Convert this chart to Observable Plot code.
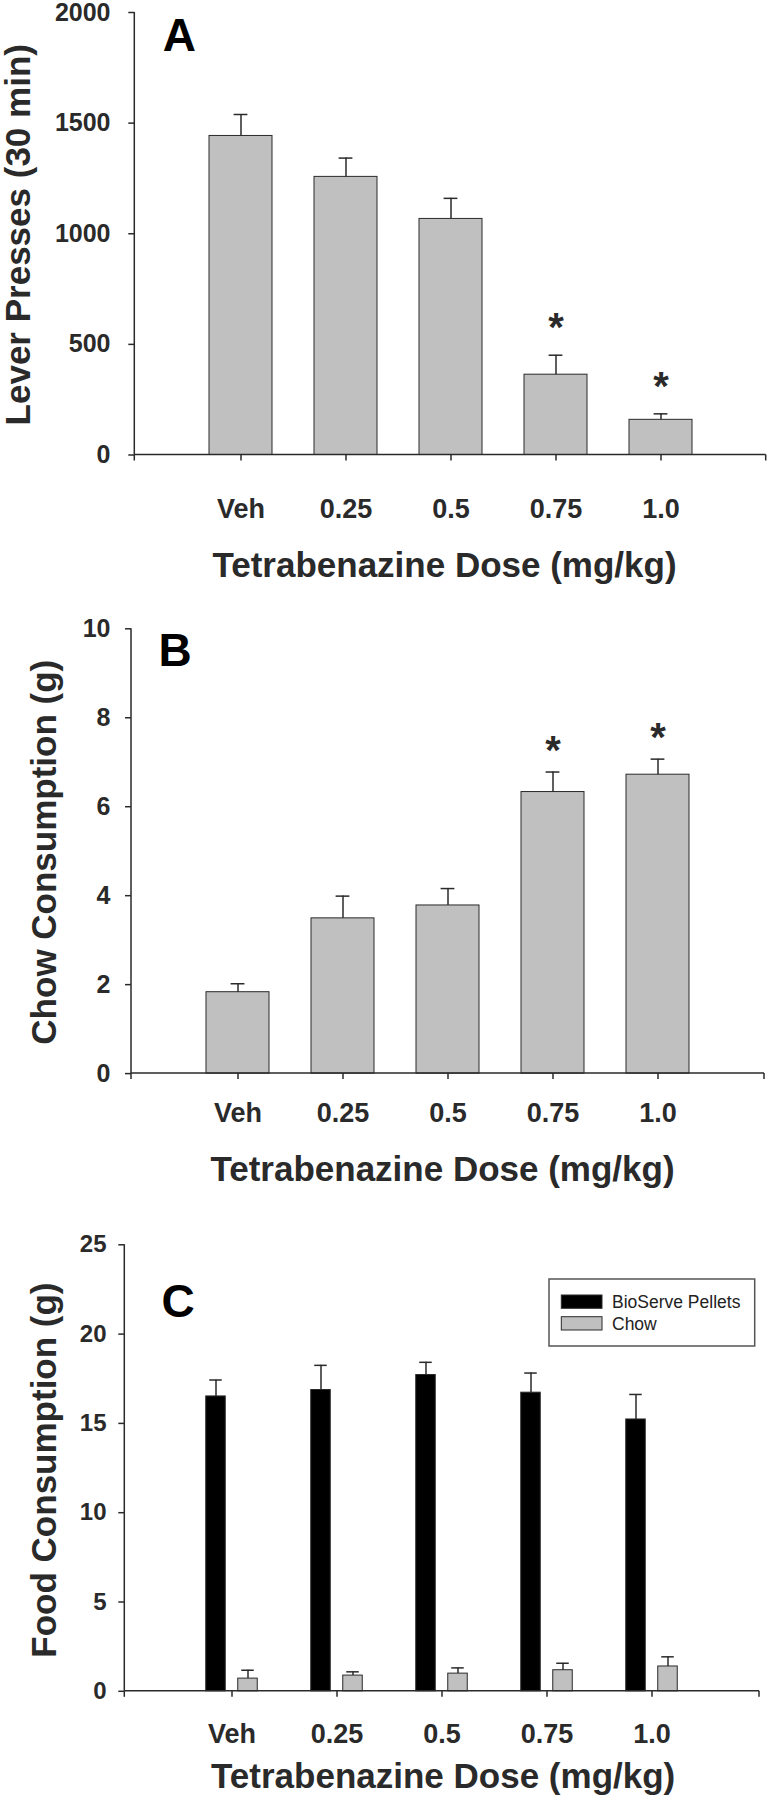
<!DOCTYPE html>
<html><head><meta charset="utf-8">
<script src="https://cdn.jsdelivr.net/npm/d3@7"></script>
<script src="https://cdn.jsdelivr.net/npm/@observablehq/plot@0.6"></script>
<style>
body{margin:0;background:#fff;}
#charts svg{display:block;}
</style></head><body><div id="charts"></div>
<script>
// ---------- data ----------
const doses = ["Veh", "0.25", "0.5", "0.75", "1.0"];
// Panel A: lever presses
const leverMean = [1442, 1257, 1067, 363, 159];
const leverSem  = [97, 85, 93, 88, 27];
const leverSig  = [false, false, false, true, true];
// Panel B: chow consumption
const chowMean = [1.83, 3.49, 3.78, 6.33, 6.72];
const chowSem  = [0.19, 0.50, 0.38, 0.45, 0.35];
const chowSig  = [false, false, false, true, true];
// Panel C: free-feeding food consumption
const series = ["BioServe Pellets", "Chow"];
const pelletMean   = [16.51, 16.87, 17.71, 16.72, 15.22];
const pelletSem    = [0.92, 1.38, 0.71, 1.10, 1.40];
const foodChowMean = [0.71, 0.88, 0.99, 1.18, 1.39];
const foodChowSem  = [0.47, 0.21, 0.32, 0.39, 0.54];
// ticks & labels
const yTicksA = [0, 500, 1000, 1500, 2000];
const yTicksB = [0, 2, 4, 6, 8, 10];
const yTicksC = [0, 5, 10, 15, 20, 25];
const xTitle = "Tetrabenazine Dose (mg/kg)";
const yTitles = ["Lever Presses (30 min)", "Chow Consumption (g)", "Food Consumption (g)"];
const letters = ["A", "B", "C"];

// ---------- style ----------
const FONT = "'Liberation Sans', Arial, Helvetica, sans-serif";
const INK = "#2a2a2a";
const BAR = "#c0c0c0";

// axis lines + end ticks of the x axis
function axisLines(tickSize) {
  return (index, scales, values, dims) => {
    const g = d3.create("svg:g").attr("stroke", INK).attr("stroke-width", 1.5).attr("fill", "none");
    const y0 = dims.height - dims.marginBottom;
    const xl = dims.marginLeft, xr = dims.width - dims.marginRight;
    g.append("line").attr("x1", xl).attr("x2", xl).attr("y1", dims.marginTop).attr("y2", y0);
    g.append("line").attr("x1", xl).attr("x2", xr).attr("y1", y0).attr("y2", y0);
    for (const x of [xl, xr]) g.append("line").attr("x1", x).attr("x2", x).attr("y1", y0).attr("y2", y0 + tickSize);
    return g.node();
  };
}

function simplePanel(cfg) {
  const data = doses.map((d, i) => ({dose: d, mean: cfg.mean[i], top: cfg.mean[i] + cfg.sem[i], sig: cfg.sig[i]}));
  return Plot.plot({
    width: 768, height: 600,
    marginTop: cfg.mt, marginBottom: cfg.mb, marginLeft: cfg.ml, marginRight: cfg.mr,
    style: {fontFamily: FONT, background: "white", color: INK, overflow: "visible"},
    x: {domain: doses, paddingInner: 0.4, paddingOuter: 0.7, label: null},
    y: {domain: cfg.domain, label: null},
    marks: [
      Plot.barY(data, {x: "dose", y: "mean", fill: BAR, stroke: INK, strokeWidth: 1}),
      Plot.ruleX(data, {x: "dose", y1: "mean", y2: "top", stroke: INK, strokeWidth: 1.5}),
      Plot.tickY(data, {x: "dose", y: "top", stroke: INK, strokeWidth: 1.5, insetLeft: 24.6, insetRight: 24.6}),
      Plot.text(data.filter(d => d.sig), {x: "dose", y: "top", text: () => "*", dy: cfg.starDy, lineAnchor: "bottom", textAnchor: "middle", fontSize: 40, fontWeight: "bold", fill: INK}),
      axisLines(6),
      Plot.axisY({ticks: cfg.ticks, tickFormat: "d", tickSize: 6, tickPadding: cfg.ytp, fontSize: cfg.yfs, fontWeight: "bold", strokeWidth: 1.5, label: null}),
      Plot.axisX({tickSize: 6, tickPadding: cfg.xtp, fontSize: 27, fontWeight: "bold", strokeWidth: 1.5, label: null}),
      Plot.text([xTitle], {frameAnchor: "bottom", dy: cfg.xtDy, dx: cfg.xtDx, lineAnchor: "bottom", textAnchor: "middle", fontSize: 35, fontWeight: "bold", fill: INK}),
      Plot.text([cfg.yTitle], {frameAnchor: "left", rotate: -90, dx: cfg.ytX - cfg.ml, dy: 1, lineAnchor: "bottom", textAnchor: "middle", fontSize: 35, fontWeight: "bold", fill: INK}),
      Plot.text([cfg.letter], {frameAnchor: "top-left", dx: cfg.lDx, dy: cfg.lDy, lineAnchor: "bottom", textAnchor: "start", fontSize: 46, fontWeight: "bold", fill: "#000"})
    ]
  });
}

const plotA = simplePanel({
  mean: leverMean, sem: leverSem, sig: leverSig, domain: [0, 2000], ticks: yTicksA,
  mt: 12, mb: 145.5, ml: 134.3, mr: 2.3, ytp: 18.3, yfs: 25, xtp: 38.3,
  xtDy: 121.5, xtDx: -6, ytX: 29, yTitle: yTitles[0], letter: letters[0], lDx: 28, lDy: 38, starDy: -14
});
const plotB = simplePanel({
  mean: chowMean, sem: chowSem, sig: chowSig, domain: [0, 10], ticks: yTicksB,
  mt: 28.3, mb: 126.9, ml: 131, mr: 4, ytp: 15, yfs: 25, xtp: 23.4,
  xtDy: 107, xtDx: -5.5, ytX: 55, yTitle: yTitles[1], letter: letters[1], lDx: 27, lDy: 36.7, starDy: -8
});

// Panel C
const pellets = doses.map((d, i) => ({dose: d, series: series[0], mean: pelletMean[i], top: pelletMean[i] + pelletSem[i]}));
const chowC = doses.map((d, i) => ({dose: d, series: series[1], mean: foodChowMean[i], top: foodChowMean[i] + foodChowSem[i]}));

function legendMark(index, scales, values, dims) {
  const g = d3.create("svg:g").attr("text-anchor", "start");
  const w = 205.7, h = 67;
  const x0 = dims.width - dims.marginRight - 4.3 - w;
  const top = dims.marginTop + 34.7;
  g.append("rect").attr("x", x0).attr("y", top).attr("width", w).attr("height", h)
    .attr("fill", "white").attr("stroke", "#555").attr("stroke-width", 1.5);
  series.forEach((s, i) => {
    const yy = top + 16 + i * 21.7;
    g.append("rect").attr("x", x0 + 12.3).attr("y", yy).attr("width", 40.7).attr("height", 13.3)
      .attr("fill", scales.color(s)).attr("stroke", INK).attr("stroke-width", 1);
    g.append("text").attr("x", x0 + 63).attr("y", yy + 13.3).attr("font-size", 17.5)
      .attr("text-anchor", "start").attr("font-weight", "normal")
      .attr("fill", "#222").text(s);
  });
  return g.node();
}

const mlC = 124.3;
const plotC = Plot.plot({
  width: 768, height: 600,
  marginTop: 44.3, marginBottom: 109.2, marginLeft: mlC, marginRight: 9,
  style: {fontFamily: FONT, background: "white", color: INK, overflow: "visible"},
  x: {domain: doses, paddingInner: 0.4, paddingOuter: 0.7, label: null},
  y: {domain: [0, 25], label: null},
  color: {domain: series, range: ["#000000", BAR]},
  marks: [
    Plot.barY(pellets, {x: "dose", y: "mean", fill: "series", stroke: INK, strokeWidth: 1, insetLeft: 5.75, insetRight: 37.75}),
    Plot.barY(chowC, {x: "dose", y: "mean", fill: "series", stroke: INK, strokeWidth: 1, insetLeft: 37.75, insetRight: 5.75}),
    Plot.ruleX(pellets, {x: "dose", y1: "mean", y2: "top", dx: -16, stroke: INK, strokeWidth: 1.5}),
    Plot.ruleX(chowC, {x: "dose", y1: "mean", y2: "top", dx: 16, stroke: INK, strokeWidth: 1.5}),
    Plot.tickY(pellets, {x: "dose", y: "top", stroke: INK, strokeWidth: 1.5, insetLeft: 9.25, insetRight: 41.25}),
    Plot.tickY(chowC, {x: "dose", y: "top", stroke: INK, strokeWidth: 1.5, insetLeft: 41.25, insetRight: 9.25}),
    axisLines(6),
    Plot.axisY({ticks: yTicksC, tickFormat: "d", tickSize: 6, tickPadding: 12.3, fontSize: 24, fontWeight: "bold", strokeWidth: 1.5, label: null}),
    Plot.axisX({tickSize: 6, tickPadding: 26.3, fontSize: 27, fontWeight: "bold", strokeWidth: 1.5, label: null}),
    Plot.text([xTitle], {frameAnchor: "bottom", dy: 97, dx: 1, lineAnchor: "bottom", textAnchor: "middle", fontSize: 35, fontWeight: "bold", fill: INK}),
    Plot.text([yTitles[2]], {frameAnchor: "left", rotate: -90, dx: 55 - mlC, dy: 2, lineAnchor: "bottom", textAnchor: "middle", fontSize: 35, fontWeight: "bold", fill: INK}),
    Plot.text([letters[2]], {frameAnchor: "top-left", dx: 36.7, dy: 71.7, lineAnchor: "bottom", textAnchor: "start", fontSize: 46, fontWeight: "bold", fill: "#000"}),
    legendMark
  ]
});

const root = document.getElementById("charts");
root.append(plotA, plotB, plotC);
</script>
</body></html>
